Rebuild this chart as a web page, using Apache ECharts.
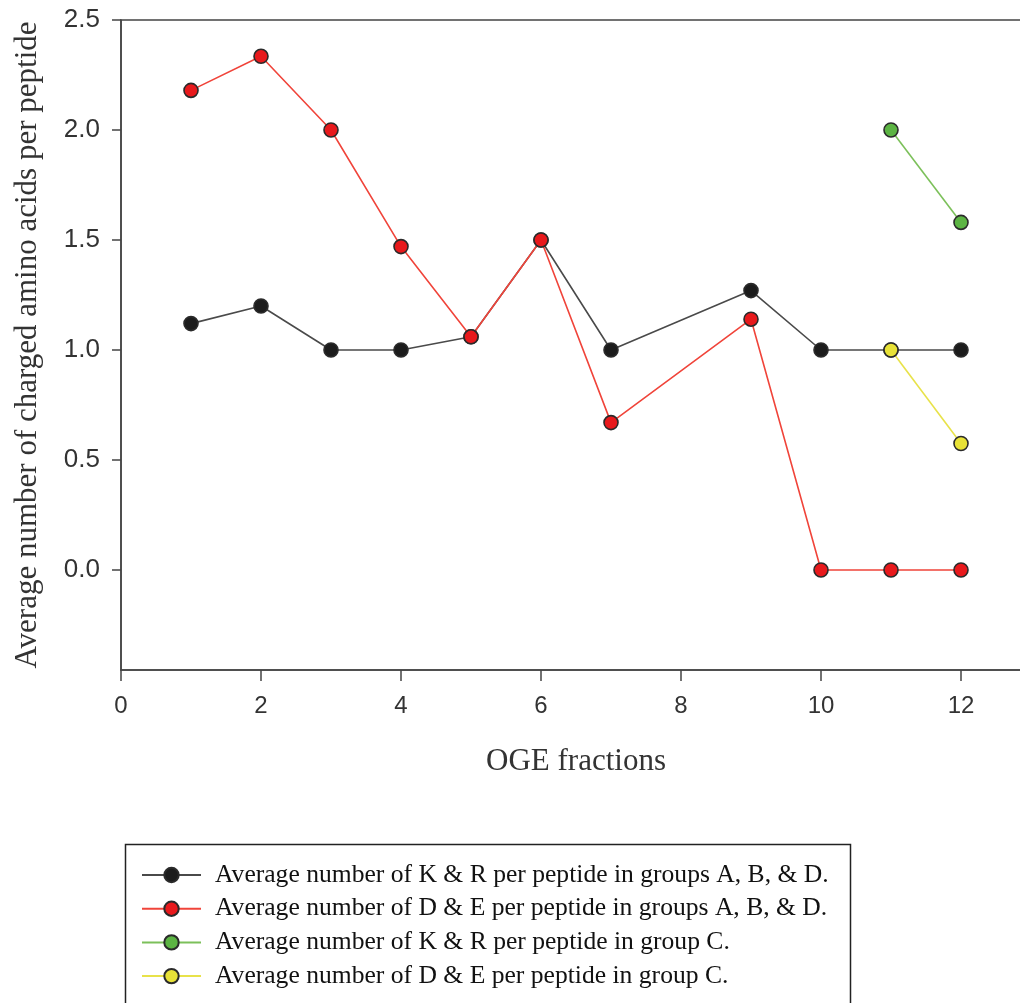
<!DOCTYPE html>
<html>
<head>
<meta charset="utf-8">
<script src="https://cdn.jsdelivr.net/npm/echarts@6/dist/echarts.min.js"></script>
<style>html,body{margin:0;padding:0;background:#fff}#c{width:1020px;height:1003px}</style>
</head>
<body>
<div id="c"></div>
<script>
var fractions = [1, 2, 3, 4, 5, 6, 7, 9, 10, 11, 12];
var krABD = [1.12, 1.20, 1.0, 1.0, 1.06, 1.50, 1.0, 1.27, 1.0, 1.0, 1.0];
var deABD = [2.18, 2.335, 2.0, 1.47, 1.06, 1.50, 0.67, 1.14, 0.0, 0.0, 0.0];
var fractionsC = [11, 12];
var krC = [2.0, 1.58];
var deC = [1.0, 0.575];
var seriesNames = [
  'Average number of K & R per peptide in groups A, B, & D.',
  'Average number of D & E per peptide in groups A, B, & D.',
  'Average number of K & R per peptide in group C.',
  'Average number of D & E per peptide in group C.'
];
var xTicks = [0, 2, 4, 6, 8, 10, 12];
var yTicks = [0.0, 0.5, 1.0, 1.5, 2.0, 2.5];

function pairs(xs, ys) { return xs.map(function (x, i) { return [x, ys[i]]; }); }

function mk(name, data, fill, line) {
  return {
    name: name, type: 'line', data: data,
    symbol: 'circle', symbolSize: 14,
    itemStyle: { color: fill, borderColor: '#2a2a2a', borderWidth: 1.6 },
    lineStyle: { color: line, width: 1.6 },
    emphasis: { disabled: true }, z: 3
  };
}

var chart = echarts.init(document.getElementById('c'), null, { renderer: 'canvas' });
chart.setOption({
  animation: false,
  backgroundColor: '#fff',
  grid: { left: 121, top: 20, width: 910, height: 650, containLabel: false, outerBoundsMode: 'none',
    show: true, borderColor: '#444', borderWidth: 1.5, backgroundColor: 'transparent' },
  xAxis: {
    type: 'value', min: 0, max: 13,
    name: 'OGE fractions', nameLocation: 'middle', nameGap: 76,
    nameTextStyle: { fontFamily: 'Liberation Serif', fontSize: 31, color: '#333' },
    axisLine: { show: true, onZero: false, lineStyle: { color: '#444', width: 1.5 } },
    axisTick: { show: true, inside: false, length: 11, customValues: xTicks, lineStyle: { color: '#444', width: 1.5 } },
    axisLabel: { fontFamily: 'Liberation Sans', fontSize: 24, color: '#333', margin: 24, customValues: xTicks,
      formatter: function (v) { return String(v); } },
    splitLine: { show: false }
  },
  yAxis: {
    type: 'value', min: -0.4545, max: 2.5,
    name: 'Average number of charged amino acids per peptide', nameLocation: 'middle', nameGap: 78,
    nameTextStyle: { fontFamily: 'Liberation Serif', fontSize: 31, color: '#333' },
    axisLine: { show: true, onZero: false, lineStyle: { color: '#444', width: 1.5 } },
    axisTick: { show: true, inside: false, length: 9, customValues: yTicks, lineStyle: { color: '#444', width: 1.5 } },
    axisLabel: { fontFamily: 'Liberation Sans', fontSize: 26, color: '#333', margin: 21, customValues: yTicks,
      formatter: function (v) { return v.toFixed(1); } },
    splitLine: { show: false }
  },
  legend: {
    orient: 'vertical', left: 141, top: 862, padding: 0,
    itemWidth: 59, itemHeight: 18, itemGap: 7.7,
    textStyle: { fontFamily: 'Liberation Serif', fontSize: 25.6, lineHeight: 25, color: '#111', padding: [0, 0, 0, 9] },
    data: seriesNames
  },
  graphic: [{
    type: 'rect', left: 123, top: 842, silent: true,
    shape: { width: 725, height: 200 },
    style: { fill: 'none', stroke: '#222', lineWidth: 1.5 }
  }],
  series: [
    mk(seriesNames[0], pairs(fractions, krABD), '#1c1c1c', '#4a4a4a'),
    mk(seriesNames[1], pairs(fractions, deABD), '#e8191c', '#f0443a'),
    mk(seriesNames[2], pairs(fractionsC, krC), '#5cb443', '#7cc05a'),
    mk(seriesNames[3], pairs(fractionsC, deC), '#e8e237', '#e8e24a')
  ]
});
</script>
</body>
</html>
